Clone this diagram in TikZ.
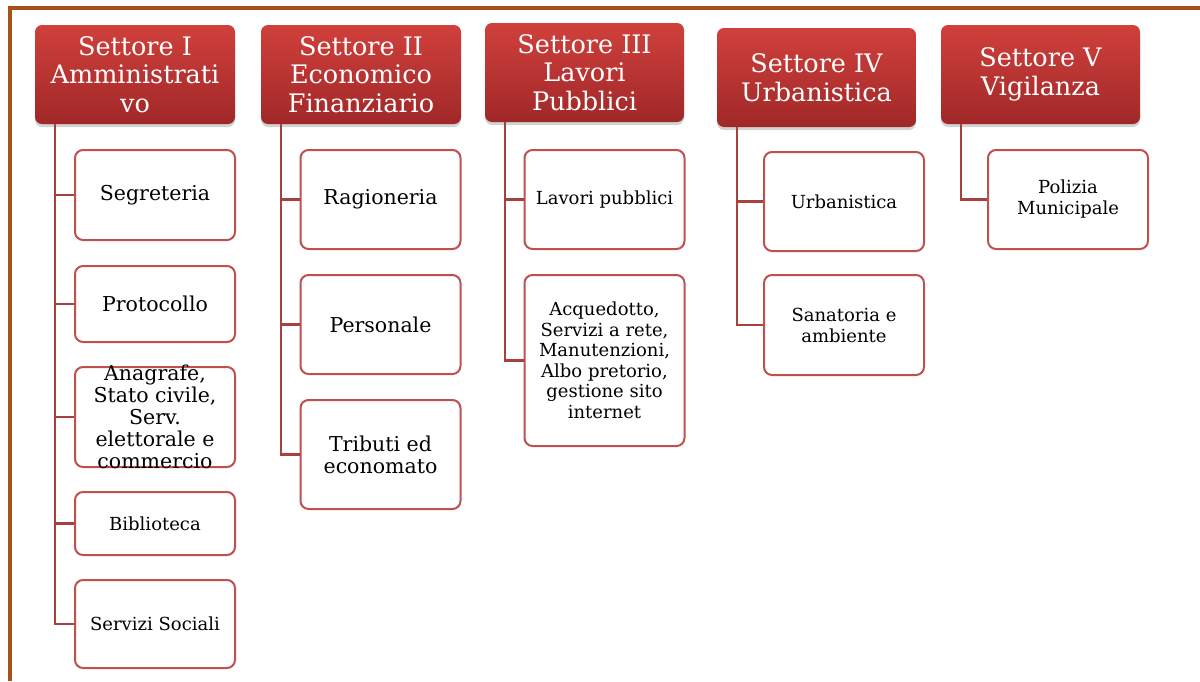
\documentclass[tikz,border=0pt]{standalone}
\usepackage{fontspec}
\setmainfont{DejaVu Serif}
\usetikzlibrary{shadows}
\definecolor{htop}{RGB}{208,64,60}
\definecolor{hbot}{RGB}{160,40,40}
\definecolor{cborder}{RGB}{192,80,77}
\definecolor{conncol}{RGB}{168,64,62}
\definecolor{frame}{RGB}{165,82,24}
\tikzset{
  header/.style={rounded corners=7pt, top color=htop, bottom color=hbot, draw=none,
    text=white, align=center, inner sep=0pt,
    font=\fontsize{25.5}{28.5}\selectfont,
    drop shadow={shadow xshift=0pt, shadow yshift=-3pt, opacity=0.35}},
  child/.style={rounded corners=8pt, draw=cborder, line width=2pt, fill=white,
    align=center, inner sep=0pt, minimum width=160pt},
  bigtxt/.style={font=\fontsize{20.5}{22}\selectfont},
  smalltxt/.style={font=\fontsize{18}{21}\selectfont},
  conn/.style={draw=conncol, line width=2.2pt},
}
\begin{document}
\begin{tikzpicture}[x=1pt,y=-1pt]
\useasboundingbox (0,0) rectangle (1200,681);
\draw[frame, line width=3.2pt] (10,681) -- (10,8) -- (1200,8);

% headers
\node[header, minimum width=200pt, minimum height=99pt] (h1) at (135,74.5) {Settore I\\Amministrati\\vo};
\node[header, minimum width=200pt, minimum height=99pt] (h2) at (361,74.5) {Settore II\\Economico\\Finanziario};
\node[header, minimum width=199pt, minimum height=99pt] (h3) at (584.5,72.5) {Settore III\\Lavori\\Pubblici};
\node[header, minimum width=199pt, minimum height=99pt] (h4) at (816.5,77.5) {Settore IV\\Urbanistica};
\node[header, minimum width=199pt, minimum height=99pt] (h5) at (1040.5,74.5) {Settore V\\Vigilanza};

% column 1
\node[child, bigtxt, minimum height=90pt] (seg) at (155,195) {Segreteria};
\node[child, bigtxt, minimum height=76pt] (pro) at (155,304) {Protocollo};
\node[child, minimum height=100pt] (ana) at (155,417) {};
\node[bigtxt, align=center, inner sep=0pt] (anat) at (ana.center) {Anagrafe,\\Stato civile,\\Serv.\\elettorale e\\commercio};
\node[child, smalltxt, minimum height=63pt] (bib) at (155,523.5) {Biblioteca};
\node[child, smalltxt, minimum height=88pt] (soc) at (155,624) {Servizi Sociali};

% column 2
\node[child, bigtxt, minimum height=99pt] (rag) at (380.5,199.5) {Ragioneria};
\node[child, bigtxt, minimum height=99pt] (per) at (380.5,324.5) {Personale};
\node[child, bigtxt, minimum height=109pt] (tri) at (380.5,454.5) {Tributi ed\\economato};

% column 3
\node[child, smalltxt, minimum height=99pt] (lav) at (604.5,199.5) {Lavori pubblici};
\node[child, smalltxt, font=\fontsize{18}{20.5}\selectfont, minimum height=171pt] (acq) at (604.5,360.5) {Acquedotto,\\Servizi a rete,\\Manutenzioni,\\Albo pretorio,\\gestione sito\\internet};

% column 4
\node[child, smalltxt, minimum height=99pt] (urb) at (844,201.5) {Urbanistica};
\node[child, smalltxt, minimum height=100pt] (san) at (844,325) {Sanatoria e\\ambiente};

% column 5
\node[child, smalltxt, minimum height=99pt] (pol) at (1068,199.5) {Polizia\\Municipale};

% connectors
\foreach \c in {seg,pro,ana,bib,soc} \draw[conn] ([xshift=20pt]h1.south west) |- (\c.west);
\foreach \c in {rag,per,tri} \draw[conn] ([xshift=20pt]h2.south west) |- (\c.west);
\foreach \c in {lav,acq} \draw[conn] ([xshift=20pt]h3.south west) |- (\c.west);
\foreach \c in {urb,san} \draw[conn] ([xshift=20pt]h4.south west) |- (\c.west);
\foreach \c in {pol} \draw[conn] ([xshift=20pt]h5.south west) |- (\c.west);
\end{tikzpicture}
\end{document}
